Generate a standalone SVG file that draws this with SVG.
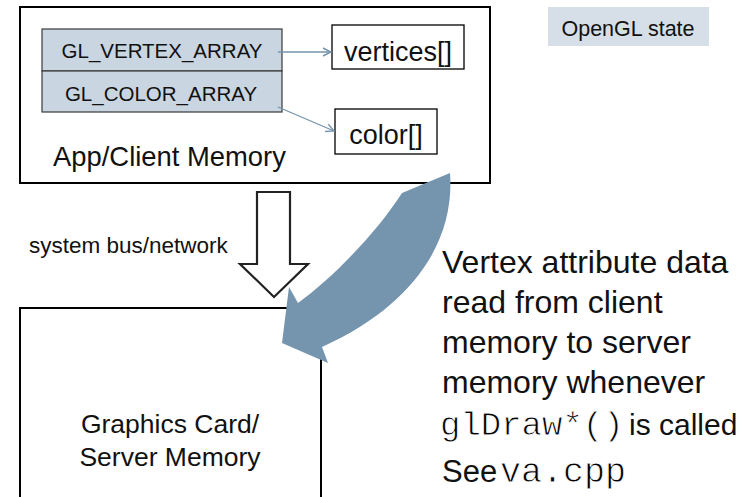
<svg xmlns="http://www.w3.org/2000/svg" width="754" height="497" viewBox="0 0 754 497">
  <style>
    .sans { font-family: "Liberation Sans", Arial, sans-serif; fill: #111; }
    .mono { font-family: "Liberation Mono", "Courier New", monospace; fill: #000; stroke: #fff; stroke-width: 0.8; }
    .mem { fill: #fff; stroke: #000; stroke-width: 2; }
    .state { fill: #c9d5e0; stroke: #3a3a3a; stroke-width: 1.2; }
    .arr { fill: #fff; stroke: #222; stroke-width: 2.2; stroke-linejoin: miter; }
    .link { fill: none; stroke: #7593ad; stroke-width: 1.3; marker-end: url(#chev); }
    .mid { text-anchor: middle; }
  </style>
  <defs>
    <marker id="chev" viewBox="0 0 10 10" refX="9" refY="5" markerWidth="10" markerHeight="10" markerUnits="userSpaceOnUse" orient="auto">
      <path d="M1,1 L9,5 L1,9" fill="none" stroke="#7593ad" stroke-width="1.4"/>
    </marker>
  </defs>

  <!-- legend -->
  <g id="legend">
    <rect x="548" y="7" width="161" height="39" fill="#d6dee7"/>
    <text class="sans" x="628" y="36" font-size="21.5" text-anchor="middle">OpenGL state</text>
  </g>

  <!-- client side -->
  <g id="client-memory">
    <rect class="mem" x="20" y="7" width="470" height="176"/>
    <text class="sans" x="53" y="166" font-size="27.4">App/Client Memory</text>
  </g>

  <g id="gl-vertex-array">
    <rect class="state" x="42" y="29" width="240" height="42"/>
    <text class="sans mid" x="162" y="58" font-size="20.5">GL_VERTEX_ARRAY</text>
  </g>

  <g id="gl-color-array">
    <rect class="state" x="42" y="71" width="240" height="41"/>
    <text class="sans mid" x="161" y="101" font-size="20.5">GL_COLOR_ARRAY</text>
  </g>

  <g id="vertices">
    <rect x="332" y="25" width="132" height="44" fill="#fff" stroke="#000" stroke-width="1.3"/>
    <text class="sans mid" x="398" y="61" font-size="27">vertices[]</text>
  </g>

  <g id="color">
    <rect x="335" y="109" width="102" height="45" fill="#fff" stroke="#000" stroke-width="1.3"/>
    <text class="sans mid" x="386" y="144" font-size="27">color[]</text>
  </g>

  <!-- server side -->
  <g id="server-memory">
    <rect class="mem" x="20" y="308" width="301" height="200"/>
    <text class="sans mid" x="170" y="433" font-size="26.5">Graphics Card/</text>
    <text class="sans mid" x="170" y="466" font-size="26.5">Server Memory</text>
  </g>

  <g id="bus-label">
    <text class="sans" x="29" y="253" font-size="22.5">system bus/network</text>
  </g>

  <g id="note">
    <text class="sans" x="442" y="273" font-size="32">Vertex attribute data</text>
    <text class="sans" x="442" y="313" font-size="32">read from client</text>
    <text class="sans" x="442" y="353" font-size="32">memory to server</text>
    <text class="sans" x="442" y="393" font-size="32">memory whenever</text>
    <text class="mono" x="440" y="435" font-size="34">glDraw*()</text>
    <text class="sans" x="629" y="435" font-size="30">is called</text>
    <text class="sans" x="442" y="482" font-size="31">See</text>
    <text class="mono" x="500" y="482" font-size="35">va.cpp</text>
  </g>

  <!-- connectors -->
  <g id="connectors">
    <line class="link" x1="278" y1="52" x2="331" y2="52"/>
    <line class="link" x1="278" y1="107" x2="334" y2="131"/>
    <!-- hollow block arrow: client to server over the bus -->
    <path class="arr" d="M257,192 H290 V264 H308 L274,297 L240,264 H257 Z"/>
    <!-- curved read arrow -->
    <path fill="#7594ae" d="M450,173 C455,240 415,305 322,347 L328,363 L282,343 L289,287 L298,303 C330,280 375,235 402,193 Z"/>
  </g>
</svg>
